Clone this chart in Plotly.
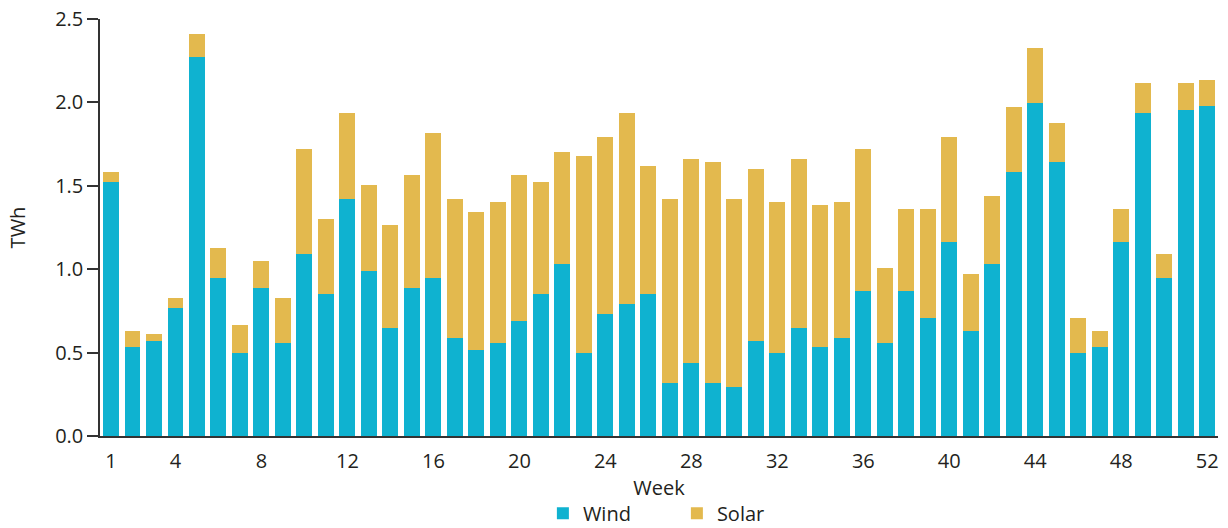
import plotly.graph_objects as go

weeks = list(range(1, 53))
total = [1.581, 0.631, 0.613, 0.827, 2.412, 1.125, 0.667, 1.047, 0.827, 1.719,
         1.303, 1.936, 1.505, 1.267, 1.563, 1.819, 1.421, 1.343, 1.403, 1.563,
         1.523, 1.701, 1.677, 1.795, 1.936, 1.617, 1.421, 1.659, 1.641, 1.421,
         1.599, 1.403, 1.659, 1.385, 1.403, 1.719, 1.005, 1.361, 1.361, 1.795,
         0.969, 1.439, 1.972, 2.328, 1.878, 0.709, 0.631, 1.361, 2.116, 1.089,
         2.116, 2.132]
wind = [1.523, 0.532, 0.572, 0.767, 2.270, 0.947, 0.496, 0.887, 0.556, 1.089,
        0.851, 1.421, 0.987, 0.649, 0.887, 0.947, 0.590, 0.514, 0.556, 0.691,
        0.851, 1.029, 0.496, 0.733, 0.791, 0.851, 0.318, 0.435, 0.318, 0.294,
        0.572, 0.496, 0.649, 0.532, 0.590, 0.869, 0.556, 0.869, 0.709, 1.165,
        0.631, 1.029, 1.581, 1.996, 1.641, 0.496, 0.532, 1.165, 1.936, 0.947,
        1.954, 1.978]
solar = [round(t - w, 3) for t, w in zip(total, wind)]

x_ticks = [1, 4, 8, 12, 16, 20, 24, 28, 32, 36, 40, 44, 48, 52]
y_ticks = [0.0, 0.5, 1.0, 1.5, 2.0, 2.5]

FONT = "Open Sans"
TXT = "#231f20"

fig = go.Figure()
fig.add_trace(go.Bar(x=weeks, y=wind, name="Wind", marker_color="#0fb2d0",
                     marker_line_width=0))
fig.add_trace(go.Bar(x=weeks, y=solar, name="Solar", marker_color="#e3b94e",
                     marker_line_width=0))

fig.update_layout(
    barmode="stack",
    bargap=0.26,
    width=1228, height=528,
    margin=dict(l=100, r=10, t=19, b=92, autoexpand=False),
    plot_bgcolor="white", paper_bgcolor="white",
    font=dict(family=FONT, size=20, color=TXT),
    showlegend=True,
    legend=dict(orientation="h", x=0.516, xanchor="center", y=-0.185,
                yanchor="middle", font=dict(size=20, color=TXT),
                traceorder="normal", entrywidth=89, entrywidthmode="pixels"),
    xaxis=dict(range=[0.49, 52.5], tickvals=x_ticks, showgrid=False,
               showline=True, linecolor="#333333", linewidth=2, ticks="outside",
               ticklen=6, tickcolor="rgba(0,0,0,0)", automargin=False,
               title=dict(text="Week", standoff=0, font=dict(size=20)),
               zeroline=False),
    yaxis=dict(range=[0, 2.5], tickvals=y_ticks, tickformat=".1f",
               showgrid=False, showline=True, linecolor="#333333", linewidth=1.5,
               ticks="outside", ticklen=11, tickcolor="#333333", tickwidth=1.5,
               automargin=False,
               title=dict(text="TWh", standoff=24, font=dict(size=20)),
               zeroline=False),
)

fig.write_html("out.html", config={"displayModeBar": False},
               post_script="document.body.style.margin='0';document.body.style.overflow='hidden';")
